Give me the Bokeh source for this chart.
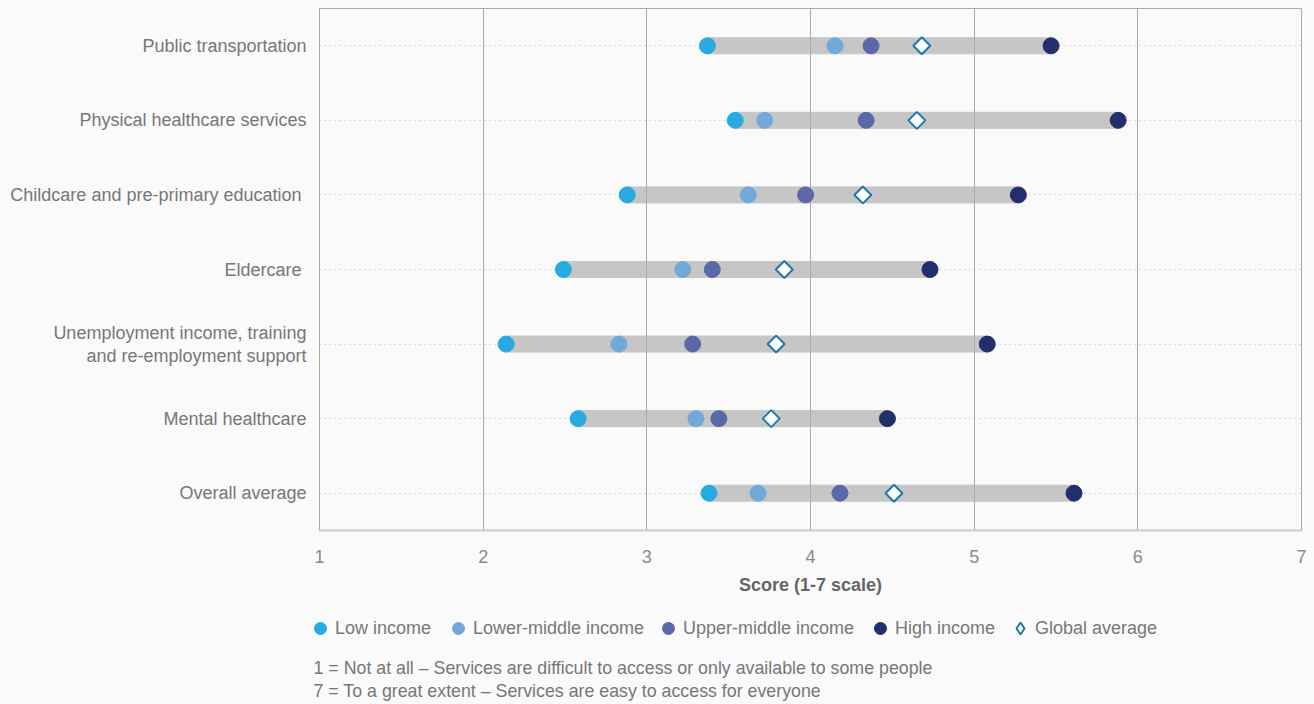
import math
from bokeh.plotting import figure
from bokeh.layouts import column
from bokeh.models import (FactorRange, ColumnDataSource, Legend, LegendItem,
                          Label, Range1d, FixedTicker)
from bokeh.embed import file_html
from bokeh.resources import INLINE

categories = [
    "Public transportation",
    "Physical healthcare services",
    "Childcare and pre-primary education ",
    "Eldercare ",
    "Unemployment income, training\nand re-employment support",
    "Mental healthcare",
    "Overall average",
]
low_income = [3.37, 3.54, 2.88, 2.49, 2.14, 2.58, 3.38]
lower_middle_income = [4.15, 3.72, 3.62, 3.22, 2.83, 3.30, 3.68]
upper_middle_income = [4.37, 4.34, 3.97, 3.40, 3.28, 3.44, 4.18]
high_income = [5.47, 5.88, 5.27, 4.73, 5.08, 4.47, 5.61]
global_average = [4.68, 4.65, 4.32, 3.84, 3.79, 3.76, 4.51]
series_names = ["Low income", "Lower-middle income", "Upper-middle income",
                "High income", "Global average"]
series_colors = ["#27aae1", "#72a9d9", "#5a68a6", "#21306a"]
x_ticks = [1, 2, 3, 4, 5, 6, 7]
x_title = "Score (1-7 scale)"
notes = ["1 = Not at all \u2013 Services are difficult to access or only available to some people",
         "7 = To a great extent \u2013 Services are easy to access for everyone"]

FONT = "Liberation Sans"
BG = "#fafafa"
DIAMOND_LINE = "#1b78a8"

src = ColumnDataSource(dict(cat=categories, low=low_income, lm=lower_middle_income,
                            um=upper_middle_income, high=high_income, glob=global_average))

p = figure(width=1314, height=610,
           y_range=FactorRange(factors=categories[::-1]),
           x_range=Range1d(1, 7),
           output_backend="svg", toolbar_location=None,
           min_border_left=319, min_border_right=13, min_border_top=8,
           min_border_bottom=80,
           background_fill_color=BG, border_fill_color=BG,
           outline_line_color="#aaaaaa")
p.frame_align = False

p.hbar(y="cat", left="low", right="high", height=0.215, color="#c6c6c6",
       source=src, level="image")

p.scatter(x="lm", y="cat", size=16, color=series_colors[1], source=src)
p.scatter(x="um", y="cat", size=16, color=series_colors[2], source=src)
p.scatter(x="low", y="cat", size=16, color=series_colors[0], source=src)
p.scatter(x="high", y="cat", size=16, color=series_colors[3], source=src)
p.scatter(x="glob", y="cat", marker="square", angle=math.pi / 4, size=12,
          fill_color="white", line_color=DIAMOND_LINE, line_width=2, source=src)

# axes
p.xaxis.ticker = FixedTicker(ticks=x_ticks)
p.xaxis.axis_label = x_title
p.xaxis.axis_label_text_font = FONT
p.xaxis.axis_label_text_font_style = "bold"
p.xaxis.axis_label_text_font_size = "18px"
p.xaxis.axis_label_text_color = "#666666"
p.xaxis.axis_label_standoff = 9
p.xaxis.major_label_text_font = FONT
p.xaxis.major_label_text_font_size = "18px"
p.xaxis.major_label_text_color = "#8a8a8a"
p.xaxis.major_label_standoff = 19
p.xaxis.axis_line_color = "#cccccc"
p.xaxis.axis_line_width = 2
p.xaxis.major_tick_line_color = None
p.xaxis.minor_tick_line_color = None
p.xaxis.major_tick_out = 0
p.xaxis.major_tick_in = 0

p.yaxis.axis_line_color = None
p.yaxis.major_tick_line_color = None
p.yaxis.minor_tick_line_color = None
p.yaxis.major_tick_out = 0
p.yaxis.major_tick_in = 0
p.yaxis.major_label_standoff = 13
p.yaxis.major_label_text_font = FONT
p.yaxis.major_label_text_font_size = "18px"
p.yaxis.major_label_text_color = "#777777"
p.yaxis.major_label_text_line_height = 1.15

p.xgrid.grid_line_color = "#aaaaaa"
p.ygrid.grid_line_color = "#bdbdbd"
p.ygrid.grid_line_dash = "1 4"

# strip below: legend and notes
s = figure(width=1314, height=94, x_range=Range1d(0, 1314), y_range=Range1d(94, 0),
           output_backend="svg", toolbar_location=None,
           x_axis_type=None, y_axis_type=None,
           min_border=0, min_border_left=0, min_border_right=0,
           min_border_top=0, min_border_bottom=0,
           background_fill_color=BG, border_fill_color=BG, outline_line_color=None)
s.frame_align = False
s.xgrid.visible = False
s.ygrid.visible = False

# hidden renderers that only provide legend glyphs
dummies = []
for c in series_colors:
    dummies.append(s.scatter(x="low", y="high", size=12, color=c, source=src,
                             visible=False))
dummies.append(s.scatter(x="low", y="high", marker="diamond", size=12,
                         fill_color="white", line_color=DIAMOND_LINE, line_width=2,
                         source=src, visible=False))

centers = [320, 458, 668, 880, 1020]
for name, rend, c in zip(series_names, dummies, centers):
    leg = Legend(items=[LegendItem(label=name, renderers=[rend])],
                 location=(c - 15, 61), orientation="horizontal",
                 glyph_width=30, glyph_height=30, label_standoff=-6,
                 padding=0, margin=0, spacing=0,
                 border_line_color=None, background_fill_alpha=0,
                 inactive_fill_alpha=0,
                 label_text_font=FONT, label_text_font_size="18px",
                 label_text_color="#777777")
    s.add_layout(leg, "center")

for i, t in enumerate(notes):
    s.add_layout(Label(x=313, y=57 + 23 * i, text=t, text_font=FONT,
                       text_font_size="17.8px", text_color="#777777",
                       text_baseline="middle"))

layout = column(p, s, spacing=0)
open("out.html", "w").write(file_html(layout, INLINE))
